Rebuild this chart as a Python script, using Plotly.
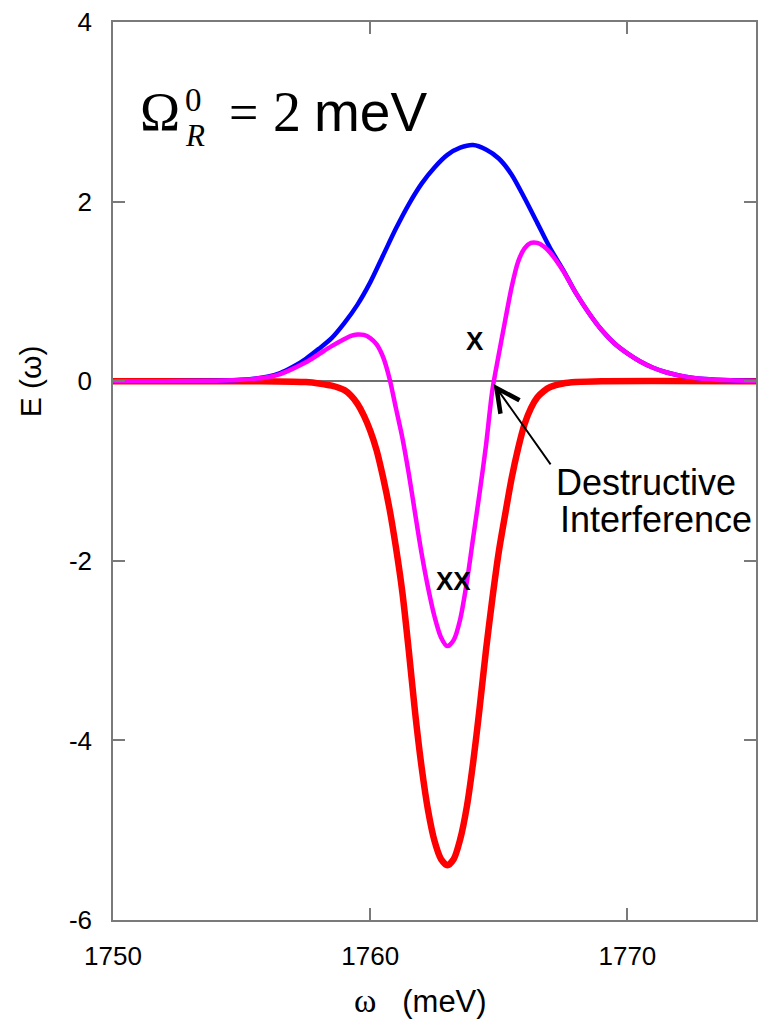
import plotly.graph_objects as go

# ---- data ----
blue_x = [1750, 1752, 1754, 1755, 1756, 1756.5, 1757, 1757.5, 1758, 1758.5, 1759, 1759.5,
          1760, 1760.5, 1761, 1761.5, 1762, 1762.5, 1763, 1763.5, 1764, 1764.5, 1765, 1765.5,
          1766, 1766.5, 1767, 1767.5, 1768, 1768.5, 1769, 1769.5, 1770, 1770.5, 1771, 1771.5,
          1772, 1772.5, 1773, 1774, 1775]
blue_y = [0, 0, 0.005, 0.015, 0.05, 0.09, 0.16, 0.25, 0.36, 0.48, 0.65, 0.85,
          1.1, 1.4, 1.7, 1.97, 2.2, 2.38, 2.52, 2.6, 2.63, 2.58, 2.48, 2.3,
          2.04, 1.76, 1.48, 1.24, 0.98, 0.76, 0.57, 0.42, 0.31, 0.22, 0.15, 0.1,
          0.065, 0.04, 0.025, 0.01, 0.003]

pink_x = [1750, 1752, 1754, 1755, 1756, 1756.5, 1757, 1757.5, 1758, 1758.5, 1759, 1759.25,
          1759.5, 1759.75, 1760, 1760.25, 1760.5, 1760.75, 1761, 1761.25, 1761.5, 1761.75,
          1762, 1762.25, 1762.5, 1762.75, 1763, 1763.25, 1763.5, 1763.75, 1764, 1764.25,
          1764.5, 1764.75, 1765, 1765.25, 1765.5, 1765.75, 1766, 1766.25, 1766.5, 1766.75,
          1767, 1767.5, 1768, 1768.5, 1769, 1769.5, 1770, 1770.5, 1771, 1771.5, 1772, 1772.5,
          1773, 1774, 1775]
pink_y = [0, 0, 0.005, 0.015, 0.045, 0.08, 0.14, 0.21, 0.3, 0.39, 0.47, 0.505,
          0.52, 0.515, 0.48, 0.41, 0.27, 0.03, -0.3, -0.63, -1.03, -1.48,
          -1.92, -2.3, -2.62, -2.85, -2.95, -2.88, -2.65, -2.25, -1.75, -1.25,
          -0.72, -0.1, 0.3, 0.68, 1.05, 1.33, 1.48, 1.54, 1.54, 1.5,
          1.43, 1.23, 0.98, 0.76, 0.57, 0.42, 0.31, 0.22, 0.15, 0.1, 0.065, 0.04,
          0.025, 0.01, 0.003]

red_x = [1750, 1755, 1757, 1757.5, 1758, 1758.5, 1759, 1759.25, 1759.5, 1759.75, 1760,
         1760.25, 1760.5, 1760.75, 1761, 1761.25, 1761.5, 1761.75, 1762, 1762.25, 1762.5,
         1762.75, 1763, 1763.25, 1763.5, 1763.75, 1764, 1764.25, 1764.5, 1764.75, 1765,
         1765.25, 1765.5, 1765.75, 1766, 1766.25, 1766.5, 1766.75, 1767, 1767.5, 1768,
         1769, 1775]
red_y = [0, 0, -0.005, -0.01, -0.025, -0.05, -0.1, -0.16, -0.25, -0.38, -0.55,
         -0.77, -1.07, -1.42, -1.85, -2.35, -3.0, -3.7, -4.3, -4.78, -5.12,
         -5.32, -5.39, -5.32, -5.1, -4.75, -4.25, -3.65, -3.0, -2.42, -1.9,
         -1.48, -1.08, -0.75, -0.48, -0.3, -0.18, -0.11, -0.065, -0.025, -0.01,
         0, 0]

x_ticks = [1750, 1760, 1770]
y_ticks = [-6, -4, -2, 0, 2, 4]
x_range = [1750, 1775]
y_range = [-6, 4]

# arrow target (destructive interference point)
arrow_x = 1764.8
arrow_y = -0.03

SANS = "Liberation Sans, Arial, sans-serif"
SERIF = "Liberation Serif, Times New Roman, serif"

fig = go.Figure()
fig.add_trace(go.Scatter(x=red_x, y=red_y, mode="lines",
                         line=dict(color="#FF0000", width=6.5, shape="spline", smoothing=0.8),
                         showlegend=False, hoverinfo="skip"))
fig.add_trace(go.Scatter(x=blue_x, y=blue_y, mode="lines",
                         line=dict(color="#0000FF", width=4.5, shape="spline", smoothing=0.8),
                         showlegend=False, hoverinfo="skip"))
fig.add_trace(go.Scatter(x=pink_x, y=pink_y, mode="lines",
                         line=dict(color="#FF00FF", width=4.5, shape="spline", smoothing=0.8),
                         showlegend=False, hoverinfo="skip"))

W, H = 759, 1025
L, R, T, B = 113, 1, 22, 105
PW, PH = W - L - R, H - T - B


def px(xp):
    return (xp - L) / PW


def py(yp):
    return (H - B - yp) / PH


annotations = []


def txt(text, x, y, size, family, xanchor="left", yanchor="middle", **kw):
    annotations.append(dict(text=text, x=px(x), y=py(y), xref="paper", yref="paper",
                            xanchor=xanchor, yanchor=yanchor, showarrow=False,
                            font=dict(size=size, family=family, color="black"), **kw))


# Omega_R^0 = 2 meV
txt("Ω", 138, 112, 54, SERIF)
txt("0", 183, 100, 33, SERIF)
txt("<i>R</i>", 183, 136, 31, SERIF)
txt("=", 227, 113, 52, SERIF)
txt("2", 271, 112, 56, SERIF)
txt("meV", 313, 112, 55, SANS)

# curve labels
txt("<b>X</b>", 476, 341, 26, SANS, xanchor="center")
txt("<b>XX</b>", 455, 581, 26, SANS, xanchor="center")

# destructive interference label
txt("Destructive", 648, 482, 36, SANS, xanchor="center")
txt("Interference", 658, 519, 36, SANS, xanchor="center")

# arrow
annotations.append(dict(x=arrow_x, y=arrow_y, xref="x", yref="y", ax=58, ay=82,
                        axref="pixel", ayref="pixel", text="", showarrow=True,
                        arrowhead=5, arrowsize=2.4, arrowwidth=1.9, arrowcolor="black"))

# axis titles
txt("E (ω)", 30, 381, 30, SANS, xanchor="center", textangle=-90)
txt('<span style="font-family:Liberation Serif, Times New Roman, serif;font-size:34px">ω</span>'
    '   (meV)', 421, 1000, 31, SANS, xanchor="center")

axis_common = dict(showline=True, linecolor="#7a7a7a", linewidth=1.6, mirror="ticks",
                   ticks="inside", ticklen=12, tickwidth=1.5, tickcolor="#7a7a7a",
                   showgrid=False, tickfont=dict(size=26, family=SANS, color="black"))

fig.update_layout(
    width=W, height=H,
    margin=dict(l=L, r=R, t=T, b=B, pad=0),
    paper_bgcolor="white", plot_bgcolor="white",
    xaxis=dict(range=x_range, tickvals=x_ticks, ticktext=[str(v) for v in x_ticks],
               zeroline=False, ticklabelstandoff=12, **axis_common),
    yaxis=dict(range=y_range, tickvals=y_ticks, ticktext=[str(v) for v in y_ticks],
               zeroline=True, zerolinecolor="#6f6f6f", zerolinewidth=1.5,
               ticklabelstandoff=14, **axis_common),
    annotations=annotations,
)

fig.write_html("out.html")
